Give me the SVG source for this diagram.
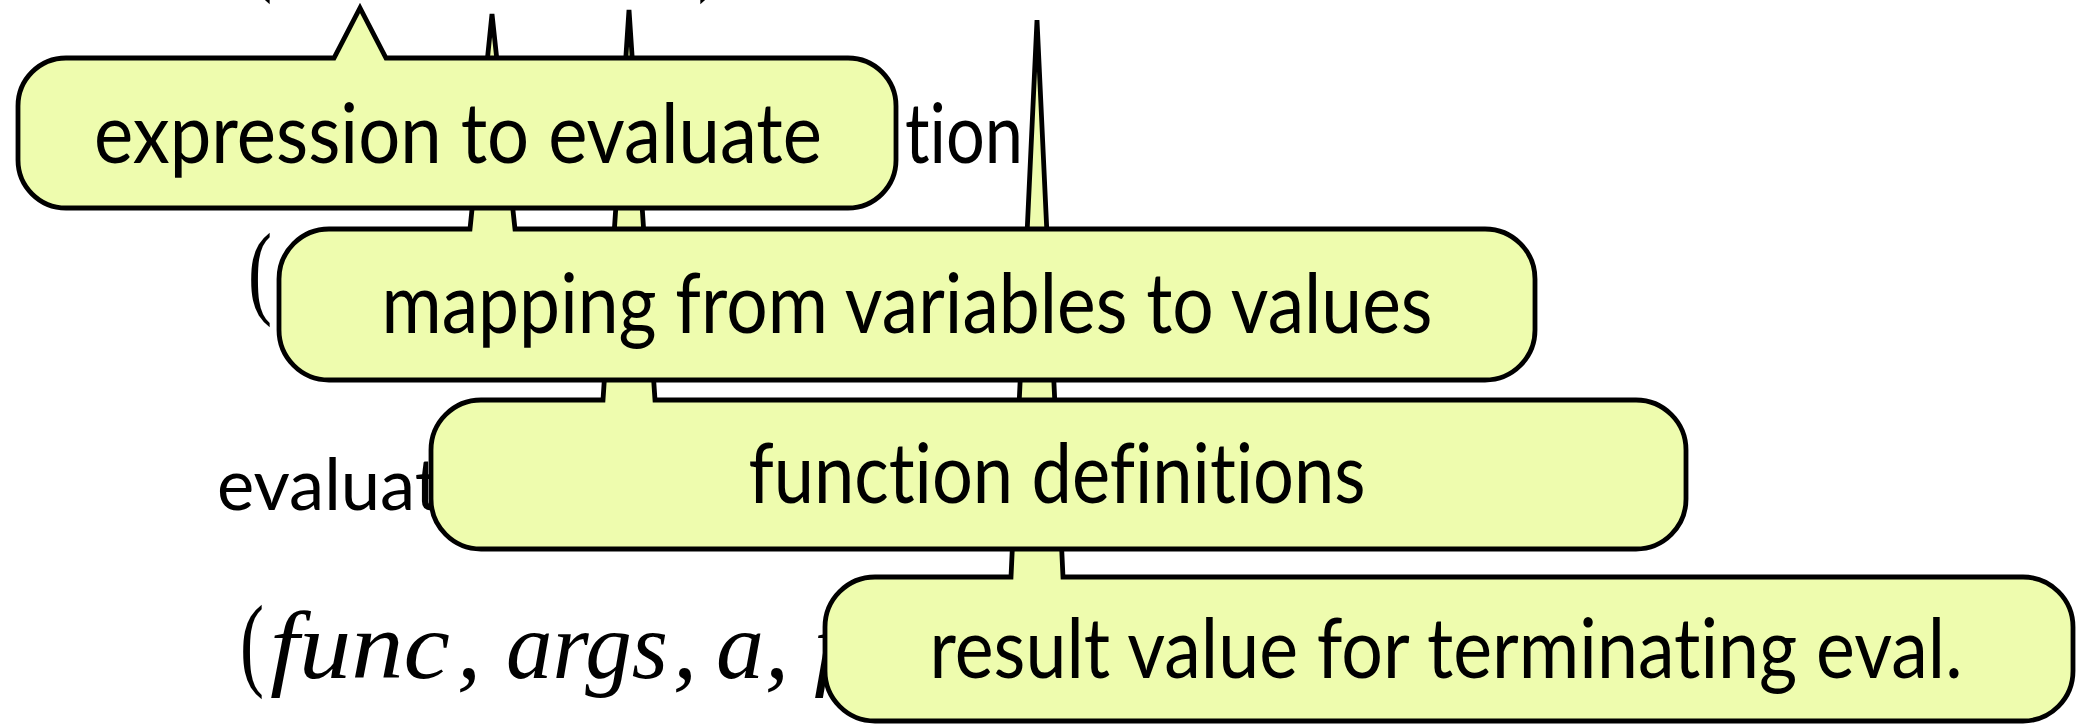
<svg xmlns="http://www.w3.org/2000/svg" width="2082" height="726" viewBox="0 0 2082 726">
  <style>
    .callout { fill: #EEFCAE; stroke: #000; stroke-width: 4.8; stroke-linejoin: miter; }
    .label { font-family: Lato, "Noto Sans", sans-serif; font-size: 84px; fill: #000; text-anchor: middle; font-variant-ligatures: none; font-feature-settings: "liga" 0; }
    .slide { font-family: Lato, "Noto Sans", sans-serif; fill: #000; font-variant-ligatures: none; font-feature-settings: "liga" 0; }
    .paren { font-family: "Liberation Serif", serif; font-size: 103px; fill: #000; }
    .math { font-family: "Liberation Serif", serif; font-style: italic; font-size: 96px; fill: #000; }
  </style>

  <!-- slide content underneath the callouts -->
  <g id="slide-text">
    <text class="paren" transform="translate(248,-18) scale(0.7,1)">(</text>
    <text class="paren" transform="translate(698,-18) scale(0.7,1)">)</text>
    <text class="slide" x="905" y="163" font-size="84" textLength="118" lengthAdjust="spacingAndGlyphs">tion</text>
    <text class="paren" font-size="104" transform="translate(248,305) scale(0.7,1)">(</text>
    <text class="slide" x="217" y="510" font-size="72" textLength="223" lengthAdjust="spacingAndGlyphs">evaluat</text>
    <text class="paren" transform="translate(240,677) scale(0.7,1)">(</text>
    <text class="math" x="270" y="678" textLength="180" lengthAdjust="spacingAndGlyphs">func</text>
    <text class="math" x="457" y="678">,</text>
    <text class="math" x="506" y="678" textLength="162" lengthAdjust="spacingAndGlyphs">args</text>
    <text class="math" x="673" y="678">,</text>
    <text class="math" x="716" y="678" textLength="48" lengthAdjust="spacingAndGlyphs">a</text>
    <text class="math" x="765" y="678">,</text>
    <text class="math" x="814" y="678">f</text>
  </g>

  <!-- callouts, lowest first so the upper ones cover the longer pointers -->
  <g id="result-value">
    <path class="callout" d="M 875,577 L 1011,577 L 1037,20 L 1063,577 L 2023,577 A 50 50 0 0 1 2073,627 L 2073,671 A 50 50 0 0 1 2023,721 L 875,721 A 50 50 0 0 1 825,671 L 825,627 A 50 50 0 0 1 875,577 Z"/>
    <text class="label" x="1446" y="678" textLength="1033" lengthAdjust="spacingAndGlyphs">result value for terminating eval.</text>
  </g>

  <g id="function-definitions">
    <path class="callout" d="M 481,400 L 603,400 L 629,10 L 655,400 L 1636,400 A 50 50 0 0 1 1686,450 L 1686,499 A 50 50 0 0 1 1636,549 L 481,549 A 50 50 0 0 1 431,499 L 431,450 A 50 50 0 0 1 481,400 Z"/>
    <text class="label" x="1057" y="503" textLength="617" lengthAdjust="spacingAndGlyphs">function definitions</text>
  </g>

  <g id="variable-mapping">
    <path class="callout" d="M 329,229 L 470,229 L 492,14 L 515,229 L 1485,229 A 50 50 0 0 1 1535,279 L 1535,330 A 50 50 0 0 1 1485,380 L 329,380 A 50 50 0 0 1 279,330 L 279,279 A 50 50 0 0 1 329,229 Z"/>
    <text class="label" x="907" y="333" textLength="1051" lengthAdjust="spacingAndGlyphs">mapping from variables to values</text>
  </g>

  <g id="expression">
    <path class="callout" d="M 66,58 L 334,58 L 360,8 L 386,58 L 848,58 A 48 48 0 0 1 896,106 L 896,160 A 48 48 0 0 1 848,208 L 66,208 A 48 48 0 0 1 18,160 L 18,106 A 48 48 0 0 1 66,58 Z"/>
    <text class="label" x="458" y="163" textLength="728" lengthAdjust="spacingAndGlyphs">expression to evaluate</text>
  </g>

  <!-- the pointers are drawn as part of each callout outline -->
  <g id="connectors"/>
</svg>
